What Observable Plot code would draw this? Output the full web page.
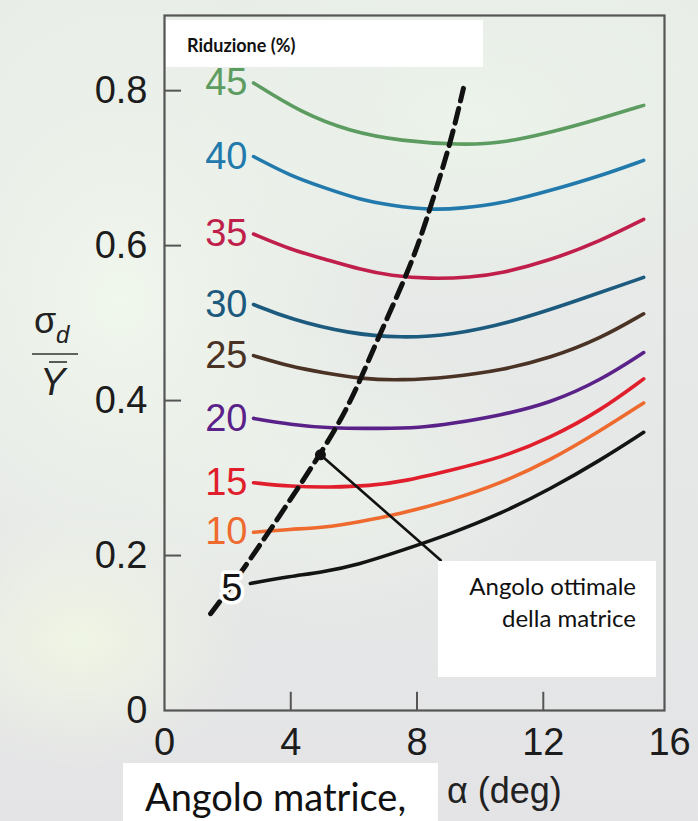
<!DOCTYPE html>
<html>
<head>
<meta charset="utf-8">
<script src="https://cdn.jsdelivr.net/npm/d3@7"></script>
<script src="https://cdn.jsdelivr.net/npm/@observablehq/plot@0.6"></script>
<style>
  html, body { margin: 0; padding: 0; }
  #wrap {
    position: relative; width: 698px; height: 821px; overflow: hidden;
    background-color: #e4e5e6;
    background-image:
      radial-gradient(ellipse 260px 330px at 120px 300px, rgba(240,247,236,0.95), rgba(240,247,236,0) 100%),
      radial-gradient(ellipse 300px 180px at 470px 120px, rgba(236,244,234,0.9), rgba(236,244,234,0) 100%),
      radial-gradient(ellipse 170px 130px at 80px 640px, rgba(240,246,228,0.95), rgba(240,246,228,0) 100%),
      radial-gradient(ellipse 220px 160px at 330px 480px, rgba(236,243,234,0.8), rgba(236,243,234,0) 100%),
      linear-gradient(180deg, #e8ede8 0%, #e6e8e7 55%, #e4e4e6 100%);
  }
  #chart { position: absolute; left: 0; top: 0; }
</style>
</head>
<body>
<div id="wrap"><div id="chart"></div></div>
<script>
// ---- data (alpha in deg, sigma_d / Y-bar) ----
const reductions = ["5", "10", "15", "20", "25", "30", "35", "40", "45"];

const alpha45 = [2.82, 4.31, 5.89, 7.48, 9.38, 10.65, 12.23, 13.81, 15.18];
const sigma45 = [0.810, 0.772, 0.747, 0.735, 0.730, 0.732, 0.746, 0.764, 0.781];

const alpha40 = [2.82, 3.99, 5.04, 6.21, 7.16, 8.43, 9.38, 10.65, 12.23, 13.81, 15.18];
const sigma40 = [0.715, 0.690, 0.675, 0.659, 0.652, 0.646, 0.648, 0.654, 0.671, 0.690, 0.710];

const alpha35 = [2.82, 3.99, 5.04, 6.21, 7.16, 8.43, 9.70, 10.65, 12.23, 13.81, 15.18];
const sigma35 = [0.615, 0.595, 0.583, 0.569, 0.561, 0.557, 0.559, 0.564, 0.581, 0.606, 0.634];

const alpha30 = [2.82, 3.99, 5.89, 7.48, 9.06, 11.19, 13.28, 15.18];
const sigma30 = [0.524, 0.505, 0.486, 0.481, 0.484, 0.503, 0.532, 0.559];

const alpha25 = [2.82, 3.99, 5.04, 6.21, 7.48, 9.06, 10.65, 12.23, 13.81, 15.18];
const sigma25 = [0.458, 0.444, 0.436, 0.428, 0.426, 0.430, 0.439, 0.455, 0.480, 0.512];

const alpha20 = [2.82, 3.99, 5.26, 6.84, 8.11, 9.06, 10.65, 12.23, 13.81, 15.18];
const sigma20 = [0.377, 0.369, 0.364, 0.364, 0.365, 0.370, 0.381, 0.397, 0.426, 0.462];

const alpha15 = [2.82, 3.99, 5.26, 6.53, 7.48, 9.06, 10.65, 12.23, 13.81, 15.18];
const sigma15 = [0.294, 0.289, 0.288, 0.290, 0.295, 0.310, 0.326, 0.352, 0.387, 0.428];

const alpha10 = [2.82, 3.99, 5.04, 6.12, 7.48, 9.06, 10.65, 12.23, 13.81, 15.18];
const sigma10 = [0.230, 0.234, 0.236, 0.243, 0.254, 0.271, 0.293, 0.323, 0.361, 0.397];

const alpha5 = [2.72, 3.99, 5.04, 6.12, 7.48, 9.06, 10.65, 12.23, 13.81, 15.18];
const sigma5 = [0.164, 0.173, 0.179, 0.188, 0.206, 0.228, 0.254, 0.286, 0.323, 0.359];

// dashed locus of optimum die angle
const optAlpha = [1.46, 2.50, 4.94, 5.89, 6.72, 7.89, 8.49, 9.06, 9.47];
const optSigma = [0.125, 0.181, 0.330, 0.396, 0.477, 0.581, 0.658, 0.732, 0.803];

// marked optimum point and its leader line
const markAlpha = [4.94];
const markSigma = [0.330];
const leaderAlpha = [4.94, 8.75];
const leaderSigma = [0.330, 0.194];

const xTicks = [0, 4, 8, 12, 16];
const yTicks = [0, 0.2, 0.4, 0.6, 0.8];

// ---- styles ----
const palette = ["#141414", "#ee6a2e", "#e01e2c", "#5a2288", "#4a3224", "#1c5a7e", "#c01f4b", "#2279ab", "#5d9c61"];

// ---- build tables ----
const seriesList = [
  ["45", alpha45, sigma45], ["40", alpha40, sigma40], ["35", alpha35, sigma35],
  ["30", alpha30, sigma30], ["25", alpha25, sigma25], ["20", alpha20, sigma20],
  ["15", alpha15, sigma15], ["10", alpha10, sigma10], ["5", alpha5, sigma5]
];
const rows = seriesList.flatMap(([r, xs, ys]) => xs.map((a, i) => ({r, alpha: a, sigma: ys[i]})));
const starts = seriesList.map(([r, xs, ys]) => ({r, alpha: xs[0], sigma: ys[0]}));
const optRows = optAlpha.map((a, i) => ({alpha: a, sigma: optSigma[i]}));
const markRows = markAlpha.map((a, i) => ({alpha: a, sigma: markSigma[i]}));
const leaderRows = leaderAlpha.map((a, i) => ({alpha: a, sigma: leaderSigma[i]}));

const font = "'Liberation Sans', Arial, Helvetica, sans-serif";
const capFont = "Lato, 'Open Sans', sans-serif";
const textColor = "#1c1c1c";

const svg = Plot.plot({
  width: 698,
  height: 821,
  marginLeft: 164,
  marginRight: 34,
  marginTop: 15,
  marginBottom: 111,
  style: {background: "transparent", fontFamily: font, overflow: "visible"},
  x: {domain: [0, 15.84]},
  y: {domain: [0, 0.897]},
  color: {domain: reductions, range: palette},
  marks: [
    Plot.frame({stroke: "#555", strokeWidth: 2.2}),
    Plot.ruleX(xTicks.filter(v => v > 0 && v < 15.84), {y1: 0, y2: 0.0235, stroke: "#555", strokeWidth: 2}),
    Plot.ruleY(yTicks.filter(v => v > 0), {x1: 0, x2: 0.54, stroke: "#555", strokeWidth: 2}),
    Plot.axisX(xTicks, {tickSize: 0, tickPadding: 18, fontSize: 38, fill: textColor, label: null, tickFormat: d => String(d)}),
    Plot.axisY(yTicks, {tickSize: 0, tickPadding: 17, fontSize: 38, fill: textColor, label: null, tickFormat: d => d === 0 ? "0" : d.toFixed(1)}),
    Plot.line(rows, {x: "alpha", y: "sigma", z: "r", stroke: "r", strokeWidth: 3.6, curve: "basis"}),
    Plot.line(optRows, {x: "alpha", y: "sigma", stroke: "#111", strokeWidth: 5, strokeDasharray: "15,8", curve: "basis"}),
    Plot.line(leaderRows, {x: "alpha", y: "sigma", stroke: "#111", strokeWidth: 2.6}),
    Plot.dot(markRows, {x: "alpha", y: "sigma", r: 5.5, fill: "#111"}),
    Plot.text(starts.filter(d => d.r !== "5"), {x: "alpha", y: "sigma", text: "r", fill: "r", textAnchor: "end", dx: -6, fontSize: 38, lineAnchor: "middle"}),
    Plot.text(starts.filter(d => d.r === "5"), {x: "alpha", y: "sigma", text: "r", fill: "r", textAnchor: "end", dx: -8, dy: 5, fontSize: 38, lineAnchor: "middle", stroke: "white", strokeWidth: 7})
  ]
});

const s = d3.select(svg);

// y-axis label: sigma_d over Y-bar
const yl = s.append("g").attr("fill", "#222").attr("font-family", font).attr("text-anchor", "start");
yl.append("text").attr("x", 34).attr("y", 333).attr("font-size", 36).text("σ");
yl.append("text").attr("x", 56).attr("y", 343).attr("font-size", 24).attr("font-style", "italic").text("d");
yl.append("line").attr("x1", 32).attr("x2", 78).attr("y1", 354).attr("y2", 354).attr("stroke", "#333").attr("stroke-width", 1.6);
yl.append("line").attr("x1", 49).attr("x2", 67).attr("y1", 362).attr("y2", 362).attr("stroke", "#333").attr("stroke-width", 1.6);
yl.append("text").attr("x", 40).attr("y", 395).attr("font-size", 38).attr("font-style", "italic").text("Y");

// white overlay boxes with Italian captions
const ov = s.append("g").attr("text-anchor", "start");
ov.append("rect").attr("x", 166).attr("y", 20).attr("width", 317).attr("height", 47).attr("fill", "white");
ov.append("text").attr("x", 187).attr("y", 52).attr("font-family", capFont)
  .attr("font-weight", "bold").attr("font-size", 18).attr("fill", "#111").text("Riduzione (%)");

ov.append("rect").attr("x", 438).attr("y", 561).attr("width", 218).attr("height", 116).attr("fill", "white");
ov.append("text").attr("x", 636).attr("y", 595).attr("text-anchor", "end").attr("font-family", capFont)
  .attr("font-size", 24).attr("fill", "#111").text("Angolo ottimale");
ov.append("text").attr("x", 636).attr("y", 627).attr("text-anchor", "end").attr("font-family", capFont)
  .attr("font-size", 24).attr("fill", "#111").text("della matrice");

ov.append("rect").attr("x", 123).attr("y", 763).attr("width", 315).attr("height", 60).attr("fill", "white");
ov.append("text").attr("x", 145).attr("y", 811).attr("font-family", capFont)
  .attr("font-size", 38).attr("fill", "#111").text("Angolo matrice,");
ov.append("text").attr("x", 447).attr("y", 803).attr("font-family", font)
  .attr("font-size", 36).attr("fill", "#222").text("α (deg)");

document.getElementById("chart").appendChild(svg);
</script>
</body>
</html>
